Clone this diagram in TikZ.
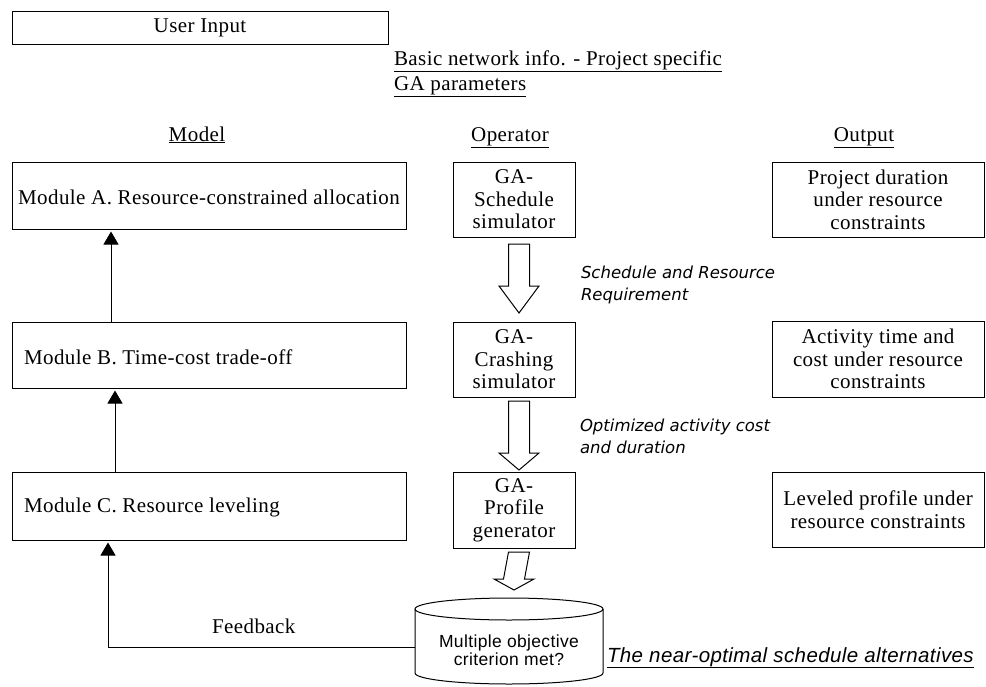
\documentclass[tikz,border=0pt]{standalone}
\usepackage{fontspec}
\setmainfont{Liberation Serif}[LetterSpace=2]
\newfontfamily\labelsans{Liberation Sans}[LetterSpace=2]
\newfontfamily\notesans{DejaVu Sans}
\usetikzlibrary{arrows.meta}

\tikzset{
  every node/.style={inner sep=0pt, outer sep=0pt},
  main/.style={font=\fontsize{21}{22.5}\selectfont},
  box/.style={draw, line width=1pt, main, align=center},
  modbox/.style={box, minimum width=394pt},
  gabox/.style={box, minimum width=122pt, minimum height=75pt},
  outbox/.style={box, minimum width=212pt, minimum height=75pt},
  note/.style={font=\notesans\itshape\fontsize{16.5}{22}\selectfont, align=left},
  uparr/.style={line width=1pt, -{Triangle[width=15pt,length=13pt]}, shorten >=2.5pt},
  blockarrow/.style={line width=1pt, fill=white, line join=miter}
}

% hollow block arrow between two nodes:
% #1 source, #2 target, #3 gap below source, #4 tip gap above target, #5 head base offset
\newcommand\blkarrow[5]{%
  \draw[blockarrow]
    ([xshift=-5.5pt,yshift=-#3pt]#1.south) -- ([xshift=15.5pt,yshift=-#3pt]#1.south)
    -- ([xshift=15.5pt,yshift=#5pt]#2.north) -- ([xshift=25pt,yshift=#5pt]#2.north)
    -- ([xshift=5pt,yshift=#4pt]#2.north)
    -- ([xshift=-15pt,yshift=#5pt]#2.north) -- ([xshift=-5.5pt,yshift=#5pt]#2.north)
    -- cycle;}

\begin{document}
\begin{tikzpicture}[x=1pt,y=-1pt]
\useasboundingbox (0,0) rectangle (986,686);
\fill[white] (0,0) rectangle (986,686);

% input
\node[box, minimum width=376pt, minimum height=33pt] (user) at (200,27.5) {User Input};
\node[main, anchor=base west] (basic) at (394,65) {\underline{Basic network info. - Project specific}};
\node[main, anchor=base west] (gapar) at (394,90) {\underline{GA parameters}};

% column headers
\node[main, anchor=base] (hmodel) at (197,141) {\underline{Model}};
\node[main, anchor=base] (hop) at (510,141) {\underline{Operator}};
\node[main, anchor=base] (hout) at (864,141) {\underline{Output}};

% model column
\node[modbox, minimum height=67pt] (modA) at (209,195.5) {};
\node[main] (modAtxt) at (209,197) {Module A. Resource-constrained allocation};
\node[modbox, minimum height=66pt] (modB) at (209,355) {};
\node[main, anchor=west] (modBtxt) at ([xshift=12pt,yshift=-2pt]modB.west) {Module B. Time-cost trade-off};
\node[modbox, minimum height=68pt] (modC) at (209,506) {};
\node[main, anchor=west] (modCtxt) at ([xshift=12pt,yshift=-1pt]modC.west) {Module C. Resource leveling};

% operator column
\node[gabox] (gaA) at (514,199.5) {GA-\\Schedule\\simulator};
\node[gabox] (gaB) at (514,359.5) {GA-\\Crashing\\simulator};
\node[gabox, minimum height=76pt] (gaC) at (514,510) {GA-\\Profile\\generator};

% output column
\node[outbox] (outA) at (878,199.5) {Project duration\\under resource\\constraints};
\node[outbox, minimum height=76pt] (outB) at (878,359) {Activity time and\\cost under resource\\constraints};
\node[outbox] (outC) at (878,509.5) {Leveled profile under\\resource constraints};

% decision store
\node[minimum width=188pt, minimum height=86pt] (cyl) at (509,641) {};
\draw[line width=1pt, fill=white]
  ([yshift=-11pt]cyl.north west) -- ([yshift=11pt]cyl.south west)
  arc[start angle=180, end angle=360, x radius=94pt, y radius=11pt]
  -- ([yshift=-11pt]cyl.north east);
\draw[line width=1pt] ([yshift=-11pt]cyl.north) ellipse [x radius=94pt, y radius=11pt];
\node[font=\labelsans\fontsize{17.5}{17.5}\selectfont, align=center] (cyltxt) at (509,650) {Multiple objective\\criterion met?};
\node[font=\labelsans\itshape\fontsize{20.5}{24}\selectfont, anchor=base west] (alt) at (607,662) {\underline{The near-optimal schedule alternatives}};

% flow between operators
\blkarrow{gaA}{gaB}{7}{9}{36}
\blkarrow{gaB}{gaC}{4}{2}{19}
\blkarrow{gaC}{cyl}{4}{8}{19}
\node[note, anchor=base west] (lab1) at (581,300) {Schedule and Resource\\Requirement};
\node[note, anchor=base west] (lab2) at (580,453) {Optimized activity cost\\and duration};

% module links and feedback
\coordinate (xa) at (111,0);
\coordinate (xb) at (115,0);
\coordinate (xf) at (108,0);
\draw[uparr] (modB.north -| xa) -- (modA.south -| xa);
\draw[uparr] (modC.north -| xb) -- (modB.south -| xb);
\coordinate (fbstart) at ([yshift=-6pt]cyl.west);
\draw[uparr] (fbstart) -| (modC.south -| xf);
\node[main, anchor=base west] (fb) at (212,633) {Feedback};
\end{tikzpicture}
\end{document}
